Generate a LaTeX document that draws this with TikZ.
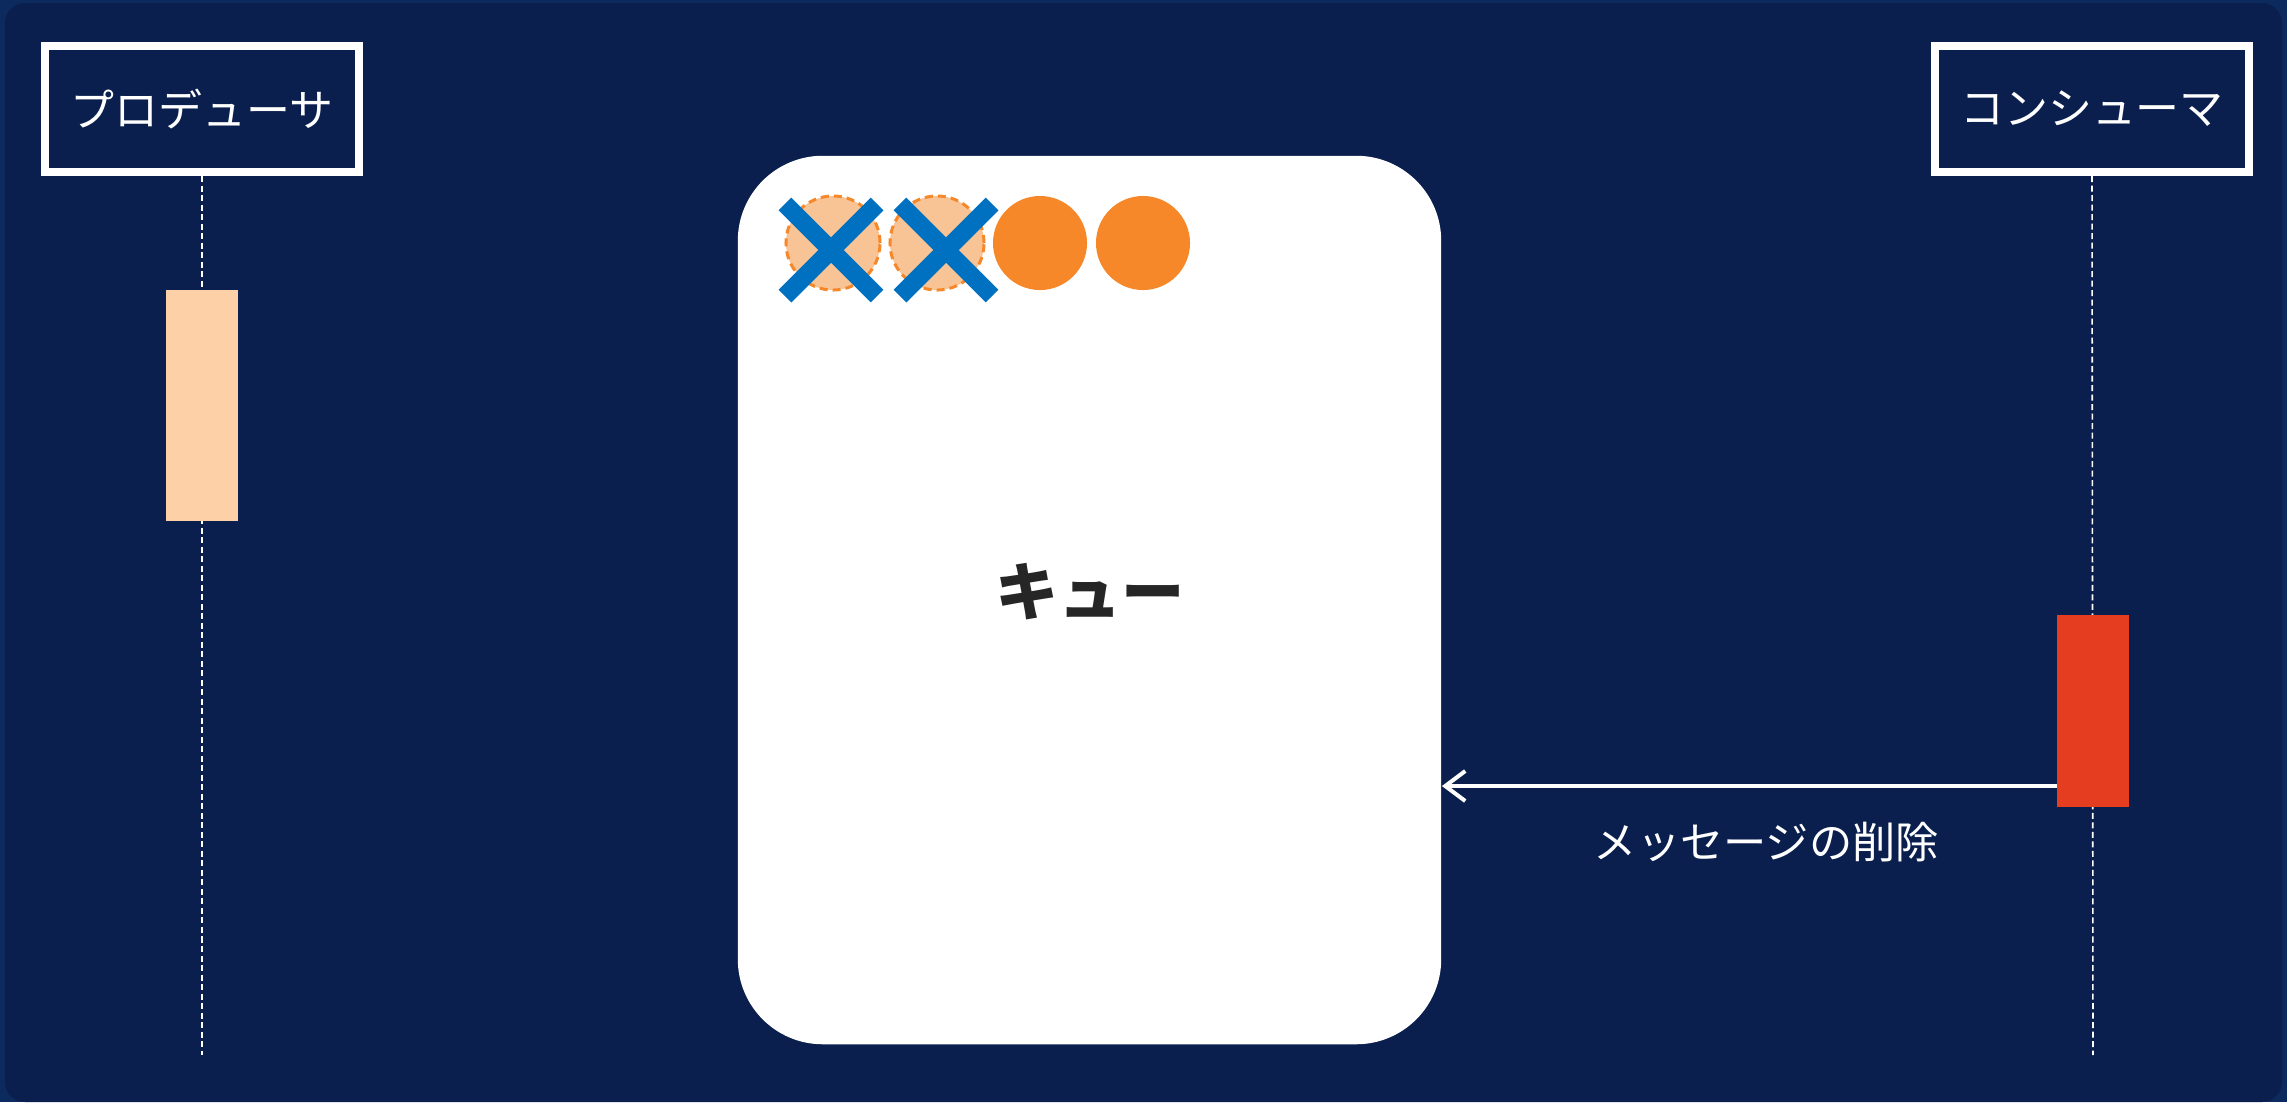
\documentclass[tikz,border=0pt]{standalone}
\usepackage{fontspec}
\setmainfont{Noto Sans CJK JP}
\usetikzlibrary{positioning,arrows.meta,shapes.misc}

\definecolor{bgouter}{HTML}{0D2A5E}
\definecolor{bgnavy}{HTML}{0A1F4D}
\definecolor{msgorange}{HTML}{F7882A}
\definecolor{msgpale}{HTML}{F9C495}
\definecolor{crossblue}{HTML}{0070C0}
\definecolor{prodpeach}{HTML}{FDD0A8}
\definecolor{consred}{HTML}{E43D20}
\definecolor{qtextgray}{HTML}{262626}

\tikzset{
  actor/.style={draw=white, line width=0.08cm, minimum width=3.14cm, minimum height=1.26cm,
    text=white, inner sep=0pt, font=\fontsize{12.5}{14}\selectfont},
  lifeline/.style={white, line width=0.45pt, dash pattern=on 0.06cm off 0.035cm},
  activation/.style={minimum width=0.71cm, inner sep=0pt},
  msgbox/.style={circle, minimum size=0.94cm, inner sep=0pt},
  msgdone/.style={msgbox, fill=msgpale, draw=msgorange, line width=0.03cm,
    dash pattern=on 0.08cm off 0.05cm},
  msgcross/.style={cross out, draw=crossblue, line width=0.18cm, minimum size=0.74cm, inner sep=0pt},
}

\begin{document}
\begin{tikzpicture}[x=0.01cm, y=-0.01cm, >={Straight Barb[length=0.2cm, width=0.3cm]}]
  \useasboundingbox (0,0) rectangle (2287,1102);
  % ---------------- background ----------------
  \fill[bgouter] (0,0) rectangle (2287,1102);
  \fill[bgnavy, rounded corners=0.2cm] (5,3) rectangle (2282,1102);
  % ---------------- actors and lifelines ----------------
  \node[actor] (prod) at (202,109) {プロデューサ};
  \node[actor] (cons) at (2092,109) {コンシューマ};
  \coordinate (prodend) at (202,1055);
  \coordinate (consend) at (2093,1055);
  \draw[lifeline] (prod.south) -- (prodend);
  \draw[lifeline] (cons.south) -- (consend);
  \node[activation, fill=prodpeach, minimum height=2.31cm] (pact) at (202,405.5) {};
  \node[activation, fill=consred, minimum height=1.92cm] (cact) at (2093,711) {};
  % ---------------- queue ----------------
  \node[fill=white, rounded corners=0.85cm, minimum width=7.03cm, minimum height=8.88cm,
    inner sep=0pt] (queue) at (1089.5,600) {};
  \node[text=qtextgray, font=\fontsize{18}{20}\selectfont\bfseries] (qlabel) at (1090,592) {キュー};
  \foreach \i/\cx in {1/833, 2/937}
    \node[msgdone] (m\i) at (\cx,243) {};
  \foreach \i/\cx in {3/1040, 4/1143}
    \node[msgbox, fill=msgorange] (m\i) at (\cx,243) {};
  \foreach \i/\cx in {1/831, 2/946}
    \node[msgcross] (x\i) at (\cx,250) {};
  % ---------------- delete message ----------------
  \draw[->, white, line width=0.04cm] (cact.west |- 0,786) -- node[below=0.22cm, xshift=0.17cm,
    text=white, font=\fontsize{12.3}{14}\selectfont] (dellabel) {メッセージの削除} (queue.east |- 0,786);
\end{tikzpicture}
\end{document}
